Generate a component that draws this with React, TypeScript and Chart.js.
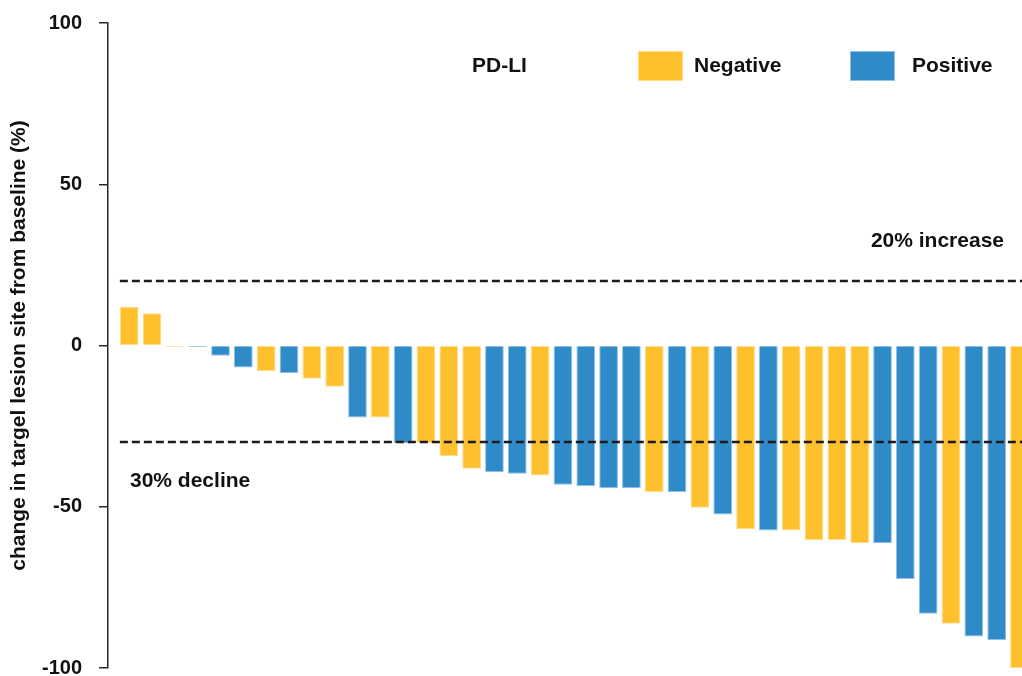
import React, { useEffect, useRef } from "react";
import { Chart, registerables } from "chart.js";

Chart.register(...registerables);

// ---- data ----
const patientIds = [
  1, 2, 3, 4, 5, 6, 7, 8, 9, 10, 11, 12, 13, 14, 15, 16, 17, 18, 19, 20,
  21, 22, 23, 24, 25, 26, 27, 28, 29, 30, 31, 32, 33, 34, 35, 36, 37, 38, 39, 40,
];
const changeFromBaseline = [
  12, 10, -0.5, -0.5, -3.2, -6.8, -7.9, -8.5, -10.3, -12.8,
  -22.3, -22.3, -30.3, -30.2, -34.3, -38.2, -39.3, -39.8, -40.3, -43.2,
  -43.6, -44.3, -44.3, -45.4, -45.4, -50.3, -52.4, -57.0, -57.4, -57.4,
  -60.3, -60.3, -61.3, -61.3, -72.4, -83.2, -86.3, -90.2, -91.3, -100,
];
const pdl1Status = [
  "Negative", "Negative", "Negative", "Positive", "Positive", "Positive", "Negative", "Positive", "Negative", "Negative",
  "Positive", "Negative", "Positive", "Negative", "Negative", "Negative", "Positive", "Positive", "Negative", "Positive",
  "Positive", "Positive", "Positive", "Negative", "Positive", "Negative", "Positive", "Negative", "Positive", "Negative",
  "Negative", "Negative", "Negative", "Positive", "Positive", "Positive", "Negative", "Positive", "Positive", "Negative",
];
const statusNames = ["Negative", "Positive"];
const statusColors = ["#FEC02D", "#2E8BC8"];
const statusEdgeColors = ["#FFDC8A", "#8FC1E6"];
const legendTitle = "PD-LI";
const yTicks = [100, 50, 0, -50, -100];
const refLineValues = [20, -30];
const refLineLabels = ["20% increase", "30% decline"];
const yTitle = "change in targel lesion site from baseline (%)";

const FONT = '"Liberation Sans", Arial, Helvetica, sans-serif';
const AXIS_COLOR = "#2b2424";
const TEXT_COLOR = "#111111";

const colorFor = (s: string) => statusColors[statusNames.indexOf(s)];
const edgeFor = (s: string) => statusEdgeColors[statusNames.indexOf(s)];

const overlayPlugin = {
  id: "overlay",
  afterDatasetsDraw(chart: any) {
    const { ctx, chartArea, scales } = chart;
    const y = scales.y;
    const first = chart.getDatasetMeta(0).data[0];
    const x0 = first.x - first.width / 2;
    ctx.save();
    ctx.setLineDash([8, 4]);
    ctx.lineWidth = 2.3;
    ctx.strokeStyle = "#1e1a1b";
    refLineValues.forEach((v) => {
      const py = Math.round(y.getPixelForValue(v));
      ctx.beginPath();
      ctx.moveTo(x0, py);
      ctx.lineTo(chartArea.right, py);
      ctx.stroke();
    });
    ctx.setLineDash([]);
    ctx.fillStyle = TEXT_COLOR;
    ctx.font = `bold 21px ${FONT}`;
    ctx.textBaseline = "middle";
    const pyUp = y.getPixelForValue(refLineValues[0]);
    ctx.textAlign = "right";
    ctx.fillText(refLineLabels[0], chartArea.right - 18, pyUp - 40);
    const pyDown = y.getPixelForValue(refLineValues[1]);
    ctx.textAlign = "left";
    ctx.fillText(refLineLabels[1], chartArea.left + 22, pyDown + 39);
    ctx.restore();
  },
  afterDraw(chart: any) {
    const { ctx } = chart;
    ctx.save();
    ctx.font = `bold 21px ${FONT}`;
    ctx.textBaseline = "middle";
    ctx.textAlign = "left";
    ctx.fillStyle = TEXT_COLOR;
    const cy = 66;
    ctx.fillText(legendTitle, 472, cy);
    const boxX = [638, 850];
    const textX = [694, 912];
    statusNames.forEach((name, i) => {
      ctx.fillStyle = statusColors[i];
      ctx.fillRect(boxX[i], 51, 45, 30);
      ctx.strokeStyle = statusEdgeColors[i];
      ctx.lineWidth = 1;
      ctx.strokeRect(boxX[i] + 0.5, 51.5, 44, 29);
      ctx.fillStyle = TEXT_COLOR;
      ctx.fillText(name, textX[i], cy);
    });
    ctx.restore();
  },
};

export default function App() {
  const canvasRef = useRef<HTMLCanvasElement | null>(null);

  useEffect(() => {
    if (!canvasRef.current) return;
    Chart.defaults.font.family = FONT;
    const chart = new Chart(canvasRef.current, {
      type: "bar",
      data: {
        datasets: [
          {
            label: "Change from baseline",
            data: patientIds.map((id, i) => ({ x: id, y: changeFromBaseline[i] })),
            backgroundColor: pdl1Status.map(colorFor),
            borderColor: pdl1Status.map(edgeFor),
            borderWidth: 1,
            barPercentage: 0.82,
            categoryPercentage: 1,
          },
        ],
      },
      options: {
        responsive: false,
        animation: false,
        events: [],
        layout: { padding: { top: 23, bottom: 8, left: 0, right: 0 } },
        plugins: {
          legend: { display: false },
          tooltip: { enabled: false },
        },
        scales: {
          x: {
            type: "linear",
            display: false,
            offset: false,
            bounds: "ticks",
            min: 0.071,
            max: 40.11,
            grid: { display: false, offset: false },
          },
          y: {
            min: -100,
            max: 100,
            afterBuildTicks: (s: any) => {
              s.ticks = yTicks.map((v) => ({ value: v }));
            },
            afterFit: (s: any) => {
              s.width = 108;
              s.paddingTop = 0;
              s.paddingBottom = 0;
            },
            border: { display: true, color: AXIS_COLOR, width: 1.5 },
            grid: {
              display: true,
              drawOnChartArea: false,
              drawTicks: true,
              tickLength: 9,
              color: AXIS_COLOR,
              lineWidth: 1.5,
            },
            ticks: {
              color: TEXT_COLOR,
              padding: 17,
              font: { size: 20, weight: "bold", lineHeight: 0.8 },
            },
            title: {
              display: true,
              text: yTitle,
              color: TEXT_COLOR,
              font: { size: 21, weight: "bold" },
              padding: { top: 7, bottom: 0 },
            },
          },
        },
      } as any,
      plugins: [overlayPlugin],
    });
    return () => chart.destroy();
  }, []);

  return (
    <div style={{ position: "absolute", left: 0, top: 0, width: 1022, height: 676, background: "#fff" }}>
      <canvas ref={canvasRef} width={1022} height={676} style={{ width: 1022, height: 676, display: "block" }} />
    </div>
  );
}
